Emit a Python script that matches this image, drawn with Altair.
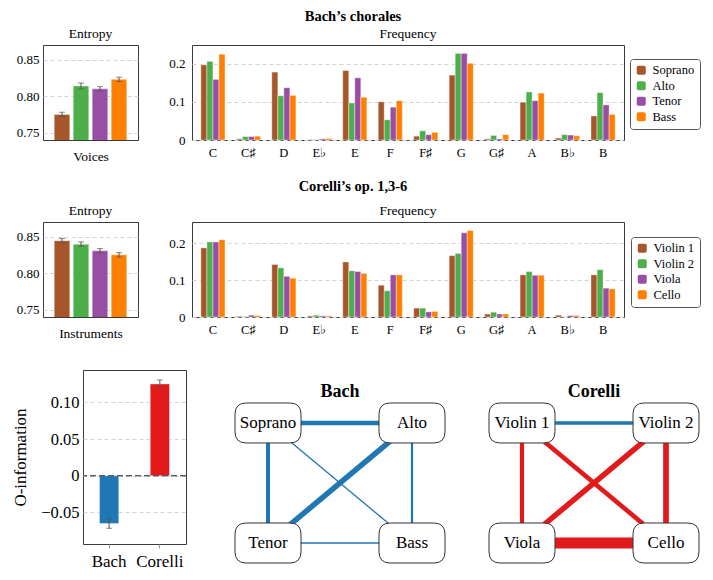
import altair as alt
import pandas as pd

FONT = "Liberation Serif"
GRID = "#d4d4d4"
FRAME = "#3a3a3a"
ERR = "#555555"

# ---------------- data ----------------
section_titles = ["Bach’s chorales", "Corelli’s op. 1,3-6"]
voices = ["Soprano", "Alto", "Tenor", "Bass"]
instruments = ["Violin 1", "Violin 2", "Viola", "Cello"]
notes = ["C", "C♯", "D", "E♭", "E", "F", "F♯", "G", "G♯", "A", "B♭", "B"]
set1 = ["#a65628", "#4daf4a", "#984ea3", "#ff7f00"]

bach_entropy = [0.775, 0.814, 0.810, 0.823]
bach_entropy_err = [0.003, 0.004, 0.003, 0.003]
corelli_entropy = [0.8445, 0.8397, 0.8306, 0.8251]
corelli_entropy_err = [0.003, 0.003, 0.003, 0.003]

bach_soprano = [0.197, 0.003, 0.178, 0.001, 0.182, 0.100, 0.010, 0.170, 0.003, 0.099, 0.005, 0.063]
bach_alto = [0.206, 0.009, 0.116, 0.001, 0.097, 0.053, 0.024, 0.227, 0.012, 0.126, 0.014, 0.124]
bach_tenor = [0.159, 0.009, 0.137, 0.003, 0.163, 0.086, 0.014, 0.227, 0.003, 0.103, 0.013, 0.092]
bach_bass = [0.225, 0.010, 0.117, 0.004, 0.112, 0.103, 0.020, 0.201, 0.014, 0.123, 0.011, 0.067]

corelli_violin1 = [0.187, 0.002, 0.142, 0.003, 0.149, 0.086, 0.024, 0.166, 0.008, 0.114, 0.005, 0.114]
corelli_violin2 = [0.203, 0.001, 0.133, 0.005, 0.125, 0.071, 0.024, 0.172, 0.013, 0.123, 0.001, 0.128]
corelli_viola = [0.203, 0.005, 0.110, 0.003, 0.123, 0.114, 0.014, 0.228, 0.008, 0.113, 0.004, 0.078]
corelli_cello = [0.209, 0.004, 0.105, 0.003, 0.118, 0.114, 0.015, 0.234, 0.008, 0.113, 0.004, 0.076]

o_info_groups = ["Bach", "Corelli"]
o_info = [-0.065, 0.125]
o_info_err = [0.0066, 0.0055]

node_col = ["left", "right", "left", "right"]
node_row = ["top", "top", "bottom", "bottom"]

bach_edge_src = ["Soprano", "Soprano", "Alto", "Soprano", "Alto", "Tenor"]
bach_edge_dst = ["Alto", "Tenor", "Tenor", "Bass", "Bass", "Bass"]
bach_edge_val = [-0.043, -0.040, -0.055, -0.013, -0.022, -0.015]

corelli_edge_src = ["Violin 1", "Violin 1", "Violin 1", "Violin 2", "Violin 2", "Viola"]
corelli_edge_dst = ["Violin 2", "Viola", "Cello", "Viola", "Cello", "Cello"]
corelli_edge_val = [-0.037, 0.042, 0.046, 0.055, 0.057, 0.110]

ROUND_SQ = ("M -0.6 -1 L 0.6 -1 Q 1 -1 1 -0.6 L 1 0.6 Q 1 1 0.6 1 L -0.6 1 "
            "Q -1 1 -1 0.6 L -1 -0.6 Q -1 -1 -0.6 -1 Z")
ROUND_BOX = ("M -0.66 -0.606 L 0.66 -0.606 Q 1 -0.606 1 -0.266 L 1 0.266 Q 1 0.606 0.66 0.606 "
             "L -0.66 0.606 Q -1 0.606 -1 0.266 L -1 -0.266 Q -1 -0.606 -0.66 -0.606 Z")

NOFRAME = alt.ViewBackground(stroke="transparent")


def section_title(text):
    return alt.Chart(pd.DataFrame({"t": [text]})).mark_text(
        font=FONT, fontSize=14.5, fontWeight="bold", color="black"
    ).encode(text="t:N").properties(width=620, height=14, view=NOFRAME)


def entropy_chart(series, values, errs, xtitle):
    df = pd.DataFrame({
        "series": series, "value": values,
        "lo": [v - e for v, e in zip(values, errs)],
        "hi": [v + e for v, e in zip(values, errs)],
    })
    base = alt.Chart(df)
    x = alt.X("series:N", sort=series,
              scale=alt.Scale(paddingInner=0.18, paddingOuter=0.59),
              axis=alt.Axis(labels=False, ticks=False, domain=False, title=xtitle,
                            titleFontSize=13.5, titlePadding=9))
    y = alt.Y("value:Q", scale=alt.Scale(domain=[0.74, 0.87], nice=False, zero=False),
              axis=alt.Axis(values=[0.75, 0.80, 0.85], format=".2f", labelFontSize=13,
                            labelPadding=4, ticks=False, domain=False, grid=True,
                            gridDash=[4, 3], gridColor=GRID, title=None))
    bars = base.mark_bar(clip=True, stroke="white", strokeWidth=0.4).encode(
        x=x, y=y,
        color=alt.Color("series:N", sort=series,
                        scale=alt.Scale(domain=series, range=set1), legend=None))
    rule = base.mark_rule(color=ERR, strokeWidth=1).encode(
        x=alt.X("series:N", sort=series), y="lo:Q", y2="hi:Q")
    cap_lo = base.mark_tick(color=ERR, size=6, thickness=1).encode(
        x=alt.X("series:N", sort=series), y="lo:Q")
    cap_hi = base.mark_tick(color=ERR, size=6, thickness=1).encode(
        x=alt.X("series:N", sort=series), y="hi:Q")
    return alt.layer(bars, rule, cap_lo, cap_hi).properties(
        width=95, height=95,
        title=alt.TitleParams("Entropy", fontSize=13.5, frame="group", offset=5))


def freq_chart(series, lists, ymax, lx, ly):
    rows = []
    for s, vals in zip(series, lists):
        for n, v in zip(notes, vals):
            rows.append({"note": n, "series": s, "value": v})
    df = pd.DataFrame(rows)
    return alt.Chart(df).mark_bar(stroke="white", strokeWidth=0.4).encode(
        x=alt.X("note:N", sort=notes,
                scale=alt.Scale(paddingInner=0.32, paddingOuter=0.25),
                axis=alt.Axis(title=None, labelAngle=0, ticks=False, domain=False,
                              labelPadding=6, labelFontSize=12.5)),
        xOffset=alt.XOffset("series:N", sort=series, scale=alt.Scale(domain=series, paddingInner=0)),
        y=alt.Y("value:Q", scale=alt.Scale(domain=[0, ymax], nice=False),
                axis=alt.Axis(values=[0, 0.1, 0.2],
                              labelExpr="datum.value == 0 ? '0' : format(datum.value, '.1f')",
                              labelFontSize=13, labelPadding=7, ticks=False, domain=False,
                              grid=True, gridDash=[4, 3], gridColor=GRID, title=None)),
        color=alt.Color("series:N", sort=series,
                        scale=alt.Scale(domain=series, range=set1),
                        legend=alt.Legend(title=None, orient="none", legendX=lx, legendY=ly,
                                          strokeColor="#555", cornerRadius=3, padding=5,
                                          fillColor="white", symbolType=ROUND_SQ,
                                          symbolSize=81, symbolStrokeWidth=0,
                                          labelFontSize=12.5, labelOffset=5,
                                          rowPadding=2.5)),
    ).properties(width=432, height=95,
                 title=alt.TitleParams("Frequency", fontSize=13.5, frame="group", offset=5))


def oinfo_chart():
    df = pd.DataFrame({
        "piece": o_info_groups, "value": o_info,
        "lo": [v - e for v, e in zip(o_info, o_info_err)],
        "hi": [v + e for v, e in zip(o_info, o_info_err)],
    })
    base = alt.Chart(df)
    x = alt.X("piece:N", sort=o_info_groups,
              scale=alt.Scale(paddingInner=0.62, paddingOuter=0.325),
              axis=alt.Axis(title=None, labelAngle=0, labelFontSize=17, labelPadding=5,
                            ticks=True, tickSize=4, tickColor="#999", domain=False))
    y = alt.Y("value:Q", scale=alt.Scale(domain=[-0.093, 0.144], nice=False),
              axis=alt.Axis(values=[-0.05, 0, 0.05, 0.1],
                            labelExpr="datum.value == 0 ? '0' : format(datum.value, '.2f')",
                            labelFontSize=16.5, labelPadding=4, ticks=False, domain=False,
                            grid=True, gridDash=[4, 3], gridColor=GRID,
                            title="O-information", titleFontSize=17, titlePadding=11))
    bars = base.mark_bar(stroke="white", strokeWidth=0.4).encode(
        x=x, y=y,
        color=alt.Color("piece:N", sort=o_info_groups,
                        scale=alt.Scale(domain=o_info_groups, range=["#1f77b4", "#e31a1c"]),
                        legend=None))
    zero = base.mark_rule(color="#555", strokeDash=[6, 3], strokeWidth=1).encode(y=alt.datum(0))
    rule = base.mark_rule(color=ERR, strokeWidth=1).encode(
        x=alt.X("piece:N", sort=o_info_groups), y="lo:Q", y2="hi:Q")
    cap_lo = base.mark_tick(color=ERR, size=6, thickness=1).encode(
        x=alt.X("piece:N", sort=o_info_groups), y="lo:Q")
    cap_hi = base.mark_tick(color=ERR, size=6, thickness=1).encode(
        x=alt.X("piece:N", sort=o_info_groups), y="hi:Q")
    return alt.layer(bars, zero, rule, cap_lo, cap_hi).properties(width=103, height=174)


def network(nodes, src, dst, val, title):
    nd = pd.DataFrame({"node": nodes, "col": node_col, "row": node_row})
    col_of = dict(zip(nodes, node_col))
    row_of = dict(zip(nodes, node_row))
    ed = pd.DataFrame({
        "src": src, "dst": dst, "value": val,
        "sc": [col_of[s] for s in src], "sr": [row_of[s] for s in src],
        "tc": [col_of[t] for t in dst], "tr": [row_of[t] for t in dst],
        "strength": [abs(v) for v in val],
        "kind": ["synergy" if v < 0 else "redundancy" for v in val],
    })
    xs = alt.Scale(type="point", domain=["left", "right"], padding=0.25)
    ys = alt.Scale(type="point", domain=["top", "bottom"], padding=0.304, align=0.726)
    edges = alt.Chart(ed).mark_rule().encode(
        x=alt.X("sc:N", scale=xs, axis=None), x2="tc",
        y=alt.Y("sr:N", scale=ys, axis=None), y2="tr",
        strokeWidth=alt.StrokeWidth("strength:Q", scale=alt.Scale(domain=[0, 0.11], range=[0, 11]),
                                    legend=None),
        color=alt.Color("kind:N", scale=alt.Scale(domain=["synergy", "redundancy"],
                                                  range=["#1f77b4", "#e31a1c"]), legend=None))
    boxes = alt.Chart(nd).mark_point(shape=ROUND_BOX, size=4356, filled=True, fill="white",
                                     stroke="#333", strokeWidth=1, opacity=1,
                                     fillOpacity=1, strokeOpacity=1).encode(
        x=alt.X("col:N", scale=xs, axis=None), y=alt.Y("row:N", scale=ys, axis=None))
    labels = alt.Chart(nd).mark_text(font=FONT, fontSize=17, color="black").encode(
        x=alt.X("col:N", scale=xs, axis=None), y=alt.Y("row:N", scale=ys, axis=None),
        text="node:N")
    return alt.layer(edges, boxes, labels).properties(
        width=216, height=193,
        title=alt.TitleParams(title, fontSize=18, fontWeight="bold", offset=-31, frame="group"),
        view=NOFRAME)


RES = dict(color="independent", xOffset="independent", strokeWidth="independent")

row1 = alt.hconcat(
    entropy_chart(voices, bach_entropy, bach_entropy_err, "Voices"),
    freq_chart(voices, [bach_soprano, bach_alto, bach_tenor, bach_bass], 0.249, 438, 14),
    spacing=29,
).resolve_scale(**RES)

row2 = alt.hconcat(
    entropy_chart(instruments, corelli_entropy, corelli_entropy_err, "Instruments"),
    freq_chart(instruments, [corelli_violin1, corelli_violin2, corelli_viola, corelli_cello],
               0.257, 439, 15),
    spacing=29,
).resolve_scale(**RES)

blockB = alt.vconcat(section_title(section_titles[0]), row1, spacing=1).resolve_scale(**RES)
blockC = alt.vconcat(section_title(section_titles[1]), row2, spacing=8).resolve_scale(**RES)

# invisible 1px anchor so that the O-information panel can sit to the right of the column origin
spacer = alt.Chart(pd.DataFrame({"s": [0]})).mark_point(size=1, opacity=0).properties(
    width=1, height=1, view=NOFRAME)

nets = alt.hconcat(
    network(voices, bach_edge_src, bach_edge_dst, bach_edge_val, "Bach"),
    network(instruments, corelli_edge_src, corelli_edge_dst, corelli_edge_val, "Corelli"),
    spacing=36,
).resolve_scale(**RES)

inner3 = alt.hconcat(oinfo_chart(), nets, spacing=44).resolve_scale(**RES)
row3 = alt.hconcat(spacer, inner3, spacing=-34).resolve_scale(**RES)

upper = alt.vconcat(blockB, blockC, spacing=15).resolve_scale(**RES)

chart = alt.vconcat(upper, row3, spacing=29).resolve_scale(**RES).properties(
    padding={"left": 3, "top": 0, "right": 0, "bottom": 0}
).configure(font=FONT).configure_view(stroke=FRAME, strokeWidth=1).configure_axis(
    labelFont=FONT, titleFont=FONT, labelColor="black", titleColor="black",
    titleFontWeight="normal"
).configure_title(font=FONT, color="black", fontWeight="normal").configure_legend(
    labelFont=FONT, labelColor="black"
)

chart.save("out.html", embed_options={"renderer": "svg", "actions": False})
